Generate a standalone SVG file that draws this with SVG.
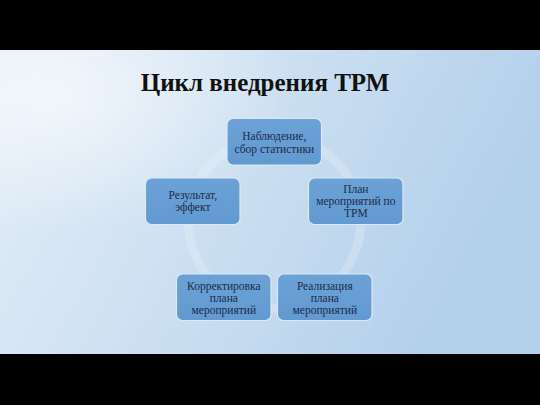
<svg xmlns="http://www.w3.org/2000/svg" width="540" height="405" viewBox="0 0 540 405">
  <defs>
    <linearGradient id="bg" x1="0" y1="0" x2="1" y2="0.3">
      <stop offset="0" stop-color="#e4eef8"/>
      <stop offset="0.45" stop-color="#cfe1f2"/>
      <stop offset="1" stop-color="#b3d0eb"/>
    </linearGradient>
    <radialGradient id="glow" cx="0.1" cy="0.15" r="0.45">
      <stop offset="0" stop-color="#ffffff" stop-opacity="0.6"/>
      <stop offset="1" stop-color="#ffffff" stop-opacity="0"/>
    </radialGradient>
    <linearGradient id="boxfill" x1="0" y1="0" x2="0" y2="1">
      <stop offset="0" stop-color="#6ca2d6"/>
      <stop offset="1" stop-color="#6199d1"/>
    </linearGradient>
  </defs>
  <style>
    .box { fill: url(#boxfill); stroke: #dbe9f6; stroke-width: 1.2; }
    .lbl { font-family: "Liberation Serif", "Times New Roman", serif; font-size: 11.5px; fill: #1d2c48; text-anchor: middle; }
    .title { font-family: "Liberation Serif", "Times New Roman", serif; font-size: 25px; font-weight: bold; fill: #111111; text-anchor: middle; }
  </style>
  <rect x="0" y="0" width="540" height="405" fill="#000000"/>
  <rect x="0" y="50" width="540" height="304" fill="url(#bg)"/>
  <rect x="0" y="50" width="540" height="304" fill="url(#glow)"/>
  <text class="title" x="265" y="91">Цикл внедрения ТРМ</text>

  <g id="connectors">
    <circle cx="274.5" cy="222" r="86" fill="none" stroke="#ffffff" stroke-opacity="0.2" stroke-width="9"/>
  </g>

  <g id="node-observe">
    <rect class="box" x="227" y="118.5" width="94.5" height="46.5" rx="6"/>
    <text class="lbl" x="274.3" y="140">Наблюдение,</text>
    <text class="lbl" x="274.3" y="152.5">сбор статистики</text>
  </g>
  <g id="node-plan">
    <rect class="box" x="308.5" y="178" width="94.5" height="46.5" rx="6"/>
    <text class="lbl" x="355.8" y="193">План</text>
    <text class="lbl" x="355.8" y="205">мероприятий по</text>
    <text class="lbl" x="355.8" y="217">ТРМ</text>
  </g>
  <g id="node-realize">
    <rect class="box" x="277.5" y="274" width="94.5" height="46.5" rx="6"/>
    <text class="lbl" x="324.8" y="289.5">Реализация</text>
    <text class="lbl" x="324.8" y="301.5">плана</text>
    <text class="lbl" x="324.8" y="313.5">мероприятий</text>
  </g>
  <g id="node-correct">
    <rect class="box" x="176.5" y="274" width="94.5" height="46.5" rx="6"/>
    <text class="lbl" x="223.8" y="289.5">Корректировка</text>
    <text class="lbl" x="223.8" y="301.5">плана</text>
    <text class="lbl" x="223.8" y="313.5">мероприятий</text>
  </g>
  <g id="node-result">
    <rect class="box" x="145.5" y="178" width="94.5" height="46.5" rx="6"/>
    <text class="lbl" x="192.8" y="199">Результат,</text>
    <text class="lbl" x="192.8" y="211">эффект</text>
  </g>
</svg>
